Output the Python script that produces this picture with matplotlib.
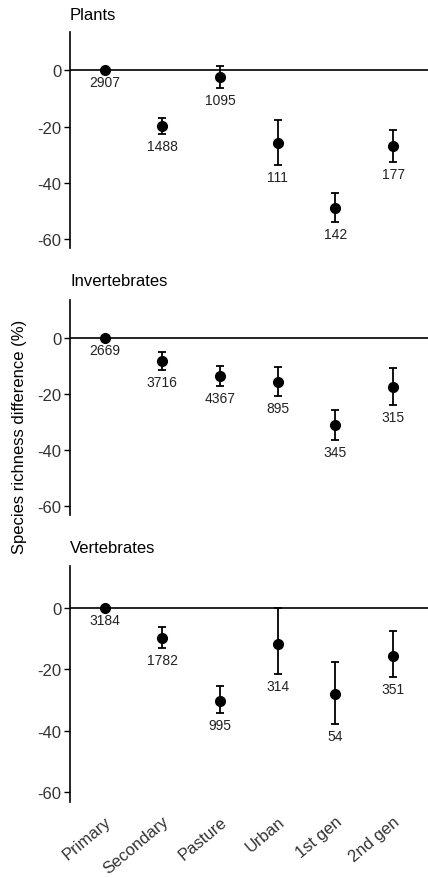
import matplotlib
matplotlib.use("Agg")
import matplotlib.pyplot as plt
import numpy as np

plt.rcParams['font.family'] = ['Liberation Sans', 'DejaVu Sans']

categories = ["Primary", "Secondary", "Pasture", "Urban", "1st gen", "2nd gen"]

plants_est = [0, -19.7, -2.4, -25.7, -48.8, -27.1]
plants_lo = [0, -22.5, -6.3, -33.6, -53.9, -32.6]
plants_hi = [0, -17.0, 1.5, -17.8, -43.6, -21.3]
plants_n = [2907, 1488, 1095, 111, 142, 177]

invert_est = [0, -8.3, -13.8, -16.0, -31.2, -17.8]
invert_lo = [0, -11.5, -17.2, -21.0, -36.4, -24.1]
invert_hi = [0, -5.1, -10.3, -10.5, -25.8, -11.0]
invert_n = [2669, 3716, 4367, 895, 345, 315]

vert_est = [0, -9.9, -30.3, -11.8, -28.1, -15.7]
vert_lo = [0, -13.2, -34.1, -21.6, -37.8, -22.5]
vert_hi = [0, -6.2, -25.5, 0.0, -17.6, -7.6]
vert_n = [3184, 1782, 995, 314, 54, 351]

panels = [
    ("Plants", plants_est, plants_lo, plants_hi, plants_n),
    ("Invertebrates", invert_est, invert_lo, invert_hi, invert_n),
    ("Vertebrates", vert_est, vert_lo, vert_hi, vert_n),
]

W, H = 428, 879
fig = plt.figure(figsize=(W / 100, H / 100), dpi=100)

# pixel boxes: (top, bottom)
boxes = [(33.3, 249.3), (300.7, 516.0), (567.3, 803.3)]
title_y = [15, 282, 549]
left_px, right_px = 70, 427.7

x = np.arange(len(categories))
for i, ((name, est, lo, hi, n), (top, bot)) in enumerate(zip(panels, boxes)):
    ax = fig.add_axes([left_px / W, 1 - bot / H, (right_px - left_px) / W, (bot - top) / H])
    est = np.array(est)
    lo = np.array(lo)
    hi = np.array(hi)
    ax.axhline(0, color='black', lw=1.2, zorder=1)
    ax.errorbar(x, est, yerr=[est - lo, hi - est], fmt='o', color='black',
                ms=7, capsize=3, elinewidth=1.3, capthick=1.3, zorder=3)
    for xi, l, ni in zip(x, lo, n):
        ax.annotate(str(ni), (xi, l), xytext=(0, -12), textcoords='offset pixels',
                    ha='center', va='center', fontsize=10, color='#222222')
    ax.set_xlim(-0.6, 5.6)
    ax.set_ylim(-63.3, 13.5)
    ax.set_yticks([0, -20, -40, -60])
    ax.set_yticklabels(["0", "-20", "-40", "-60"])
    for s in ['top', 'right', 'bottom']:
        ax.spines[s].set_visible(False)
    ax.spines['left'].set_linewidth(1.2)
    ax.tick_params(axis='y', labelsize=12, length=4, width=1, pad=2, colors='black',
                   labelcolor='#333333')
    ax.set_facecolor('none')
    ax.set_xticks(x)
    if i == 2:
        ax.tick_params(axis='x', length=0, pad=8)
        ax.set_xticklabels(categories, rotation=40, ha='right', va='top',
                           rotation_mode='anchor', fontsize=12, color='#333333')
    else:
        ax.tick_params(axis='x', length=0, labelbottom=False)
    fig.text(left_px / W, 1 - title_y[i] / H, name, ha='left', va='center', fontsize=12)

fig.text(20 / W, 1 - 437 / H, "Species richness difference (%)", rotation=90,
         ha='center', va='center', fontsize=12)

fig.savefig("out.png", dpi=100)
